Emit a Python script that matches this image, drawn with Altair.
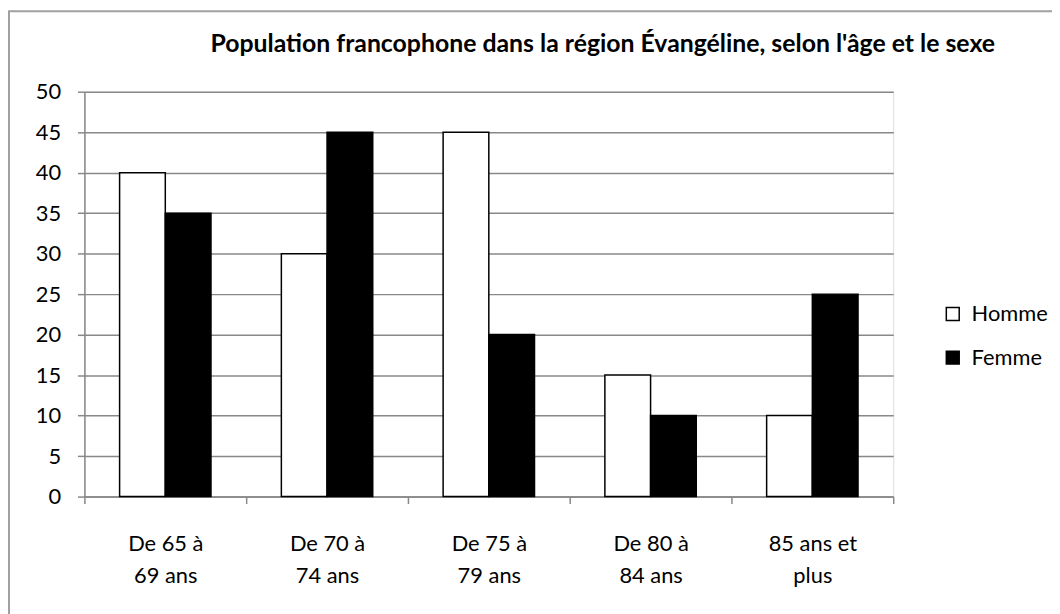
import altair as alt
import pandas as pd

categories = ["De 65 à 69 ans", "De 70 à 74 ans", "De 75 à 79 ans", "De 80 à 84 ans", "85 ans et plus"]
label_lines = [["De 65 à", "69 ans"], ["De 70 à", "74 ans"], ["De 75 à", "79 ans"], ["De 80 à", "84 ans"], ["85 ans et", "plus"]]
series = ["Homme", "Femme"]
homme = [40, 30, 45, 15, 10]
femme = [35, 45, 20, 10, 25]
y_ticks = list(range(0, 55, 5))
title_text = "Population francophone dans la région Évangéline, selon l'âge et le sexe"

rows = []
for c, h, f in zip(categories, homme, femme):
    rows.append({"cat": c, "sexe": "Homme", "val": h})
    rows.append({"cat": c, "sexe": "Femme", "val": f})
df = pd.DataFrame(rows)

label_map = "{" + ", ".join(
    "'" + c + "': [" + ", ".join("'" + l + "'" for l in ls) + "]" for c, ls in zip(categories, label_lines)
) + "}"

FONT = "Lato"

bars = alt.Chart(df).mark_bar(stroke="black", strokeWidth=1.5).encode(
    x=alt.X("cat:N", sort=categories, title=None,
            scale=alt.Scale(paddingInner=0, paddingOuter=0),
            axis=alt.Axis(labelAngle=0, tickBand="extent", domainColor="#888888", domainWidth=1.5,
                          tickColor="#888888", tickWidth=1.5, tickSize=7,
                          labelExpr=label_map + "[datum.value]",
                          labelFontSize=22, labelFont=FONT, labelColor="black",
                          labelLineHeight=33, labelPadding=30, grid=False)),
    xOffset=alt.XOffset("sexe:N", sort=series, scale=alt.Scale(paddingOuter=0.77, paddingInner=0)),
    y=alt.Y("val:Q", title=None, scale=alt.Scale(domain=[0, 50], nice=False),
            axis=alt.Axis(values=y_ticks, grid=True, gridColor="#888888", gridWidth=1.5,
                          domainColor="#888888", domainWidth=1.5, tickColor="#888888", tickWidth=1.5,
                          tickSize=7, labelFontSize=22, labelFont=FONT, labelColor="black",
                          labelPadding=17)),
    color=alt.Color("sexe:N", sort=series,
                    scale=alt.Scale(domain=series, range=["white", "black"]),
                    legend=alt.Legend(title=None, orient="none", legendX=864, legendY=213,
                                      symbolType="square", symbolSize=169,
                                      symbolStrokeColor="black", symbolStrokeWidth=1.5,
                                      labelFontSize=22, labelFont=FONT, labelColor="black",
                                      labelOffset=8, rowPadding=22)),
)

one = pd.DataFrame({"t": [title_text]})

frame = alt.Chart(one).mark_rect(
    fill="transparent", stroke="#a0a0a0", strokeWidth=2
).encode(x=alt.value(-76), x2=alt.value(1100), y=alt.value(-81), y2=alt.value(700))

title = alt.Chart(one).mark_text(
    align="left", baseline="alphabetic", fontSize=25, font=FONT, fontWeight="bold", color="black"
).encode(x=alt.value(127), y=alt.value(-40), text="t:N")

chart = alt.layer(frame, bars, title).properties(
    width=815, height=408,
    autosize=alt.AutoSizeParams(type="none"),
    padding={"left": 77, "top": 82, "right": 160, "bottom": 116},
).configure_view(stroke="transparent").configure(background="white")

chart.save("out.html", embed_options={"renderer": "svg", "actions": False})
